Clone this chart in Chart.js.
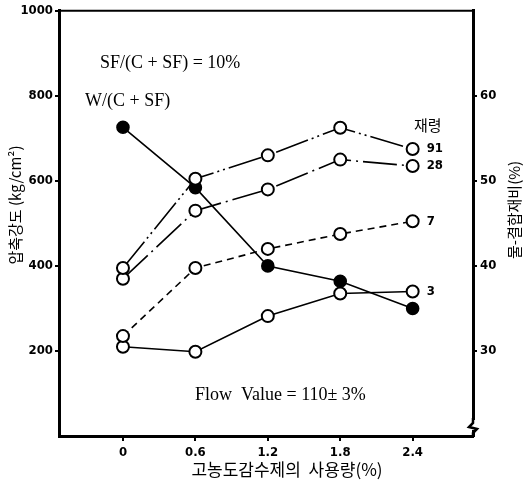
<!DOCTYPE html>
<html>
<head>
<meta charset="utf-8">
<script src="https://cdn.jsdelivr.net/npm/chart.js@4"></script>
<style>
  body { margin: 0; background: #fff; }
  #wrap { width: 529px; height: 481px; }
</style>
</head>
<body>
<div id="wrap"><canvas id="chart" width="529" height="481"></canvas></div>
<script>
// data
const dosage = [0, 0.6, 1.2, 1.8, 2.4];
const ageLabels = ["91", "28", "7", "3"];
const strength91 = [395, 605, 660, 725, 675];
const strength28 = [370, 530, 580, 650, 635];
const strength7 = [235, 395, 440, 475, 505];
const strength3 = [210, 198, 282, 335, 340];
const wbRatio = [56.3, 49.2, 40, 38.2, 35];
const leftTicks = [200, 400, 600, 800, 1000];
const rightTicks = [30, 40, 50, 60];

const ctx = document.getElementById("chart");
const tickFont = { family: "'Liberation Sans Narrow', 'DejaVu Sans Condensed', sans-serif", size: 13, weight: "bold" };

function pts(ys) {
  return dosage.map((x, i) => ({ x: x, y: ys[i] }));
}

function openSeries(ys, dash) {
  return {
    data: pts(ys),
    yAxisID: "y",
    borderColor: "#000",
    borderWidth: 1.6,
    borderDash: dash,
    pointRadius: 6,
    pointBorderWidth: 2,
    pointBackgroundColor: "#fff",
    pointBorderColor: "#000",
    fill: false,
  };
}

const decorations = {
  id: "decorations",
  afterDraw(chart) {
    const c = chart.ctx;
    const a = chart.chartArea;
    c.save();
    c.fillStyle = "#000";
    c.strokeStyle = "#000";

    // top frame line
    c.lineWidth = 2;
    c.beginPath();
    c.moveTo(a.left, a.top);
    c.lineTo(a.right, a.top);
    c.stroke();

    // break mark on right axis
    c.fillStyle = "#fff";
    c.fillRect(a.right - 3, a.bottom - 16, 7, 10);
    c.lineWidth = 2.5;
    c.beginPath();
    c.moveTo(a.right, a.bottom - 18);
    c.lineTo(a.right, a.bottom - 13);
    c.lineTo(a.right - 4, a.bottom - 9);
    c.lineTo(a.right + 4, a.bottom - 7);
    c.lineTo(a.right, a.bottom - 3);
    c.lineTo(a.right, a.bottom);
    c.stroke();
    c.fillStyle = "#000";

    // series labels next to last points
    c.textBaseline = "middle";
    c.textAlign = "left";
    c.font = "bold 13px 'Liberation Sans Narrow', 'DejaVu Sans Condensed', sans-serif";
    ageLabels.forEach((lab, i) => {
      const meta = chart.getDatasetMeta(i);
      const p = meta.data[meta.data.length - 1];
      c.fillText(lab, p.x + 14, p.y);
    });

    c.font = "15px 'Noto Sans CJK KR'";
    c.fillText("재령", 414, 125);

    c.font = "18px 'Liberation Serif', serif";
    c.fillText("SF/(C + SF) = 10%", 100, 63);
    c.fillText("W/(C + SF)", 85, 101);
    c.fillText("Flow  Value = 110± 3%", 195, 395);

    // axis titles
    c.textAlign = "center";
    c.font = "17px 'Noto Sans CJK KR'";
    c.fillText("고농도감수제의  사용량(%)", 287, 470);

    c.save();
    c.translate(15, 205);
    c.rotate(-Math.PI / 2);
    c.font = "15px 'Noto Sans CJK KR'";
    c.fillText("압축강도 (kg/cm²)", 0, 0);
    c.restore();

    c.save();
    c.translate(514, 210);
    c.rotate(-Math.PI / 2);
    c.font = "15px 'Noto Sans CJK KR'";
    c.fillText("물-결합재비(%)", 0, 0);
    c.restore();

    c.restore();
  },
};

new Chart(ctx, {
  type: "line",
  data: {
    datasets: [
      openSeries(strength91, [34, 4, 2, 4, 2, 4]),
      openSeries(strength28, [34, 5, 2, 5]),
      openSeries(strength7, [7, 5]),
      openSeries(strength3, []),
      {
        data: pts(wbRatio),
        yAxisID: "y2",
        borderColor: "#000",
        borderWidth: 1.6,
        pointRadius: 6,
        pointBackgroundColor: "#000",
        pointBorderColor: "#000",
        fill: false,
      },
    ],
  },
  options: {
    responsive: false,
    animation: false,
    layout: { padding: { top: 10, left: 0, right: 0, bottom: 0 } },
    plugins: { legend: { display: false }, tooltip: { enabled: false } },
    scales: {
      x: {
        type: "linear",
        min: -0.53,
        max: 2.9,
        afterBuildTicks: (s) => { s.ticks = dosage.map((v) => ({ value: v })); },
        afterFit: (s) => { s.height = 45; },
        grid: { drawOnChartArea: false, tickLength: 5, color: "#000", lineWidth: 2 },
        border: { color: "#000", width: 3 },
        ticks: { color: "#000", font: tickFont, padding: 4, callback: (v) => String(v) },
      },
      y: {
        position: "left",
        min: 0,
        max: 1000,
        afterBuildTicks: (s) => { s.ticks = leftTicks.map((v) => ({ value: v })); },
        afterFit: (s) => { s.width = 59; },
        grid: { drawOnChartArea: false, tickLength: 4, color: "#000", lineWidth: 2 },
        border: { color: "#000", width: 3 },
        ticks: { color: "#000", font: tickFont, padding: 2, callback: (v) => String(v) },
      },
      y2: {
        position: "right",
        min: 20,
        max: 70,
        afterBuildTicks: (s) => { s.ticks = rightTicks.map((v) => ({ value: v })); },
        afterFit: (s) => { s.width = 56; },
        grid: { drawOnChartArea: false, tickLength: 4, color: "#000", lineWidth: 2 },
        border: { color: "#000", width: 3 },
        ticks: { color: "#000", font: tickFont, padding: 3, callback: (v) => String(v) },
      },
    },
  },
  plugins: [decorations],
});
</script>
</body>
</html>
